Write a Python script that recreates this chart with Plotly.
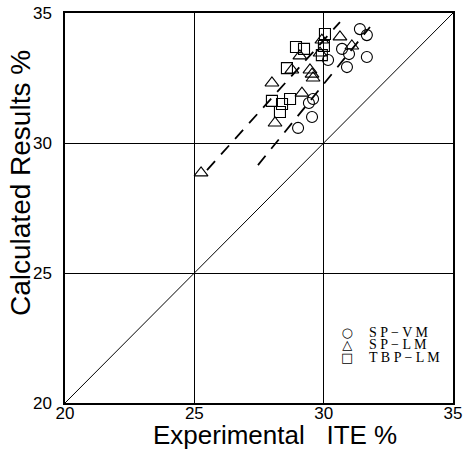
import plotly.graph_objects as go

# SP-VM results (experimental ITE %, calculated %)
sp_vm_x = [31.40, 31.67, 30.71, 30.98, 31.67, 30.90, 30.17, 29.59, 29.43, 29.55, 29.01]
sp_vm_y = [34.38, 34.15, 33.62, 33.42, 33.31, 32.92, 33.19, 31.69, 31.54, 31.00, 30.58]

# SP-LM results
sp_lm_x = [25.26, 28.00, 28.12, 28.77, 29.08, 29.16, 29.47, 29.55, 29.59, 29.86, 29.93, 30.63, 31.09]
sp_lm_y = [28.85, 32.31, 30.77, 32.81, 33.35, 31.92, 32.81, 32.65, 32.50, 33.46, 33.96, 34.08, 33.73]

# TBP-LM results
tbp_lm_x = [30.05, 30.01, 29.93, 28.93, 29.24, 28.58, 28.00, 28.39, 28.70, 28.31]
tbp_lm_y = [34.19, 33.73, 33.38, 33.69, 33.62, 32.88, 31.62, 31.50, 31.69, 31.19]

# dashed trend lines (start, end)
upper_x = [25.49, 30.63]
upper_y = [28.96, 34.65]
lower_x = [27.46, 31.79]
lower_y = [29.15, 34.46]

# 1:1 reference line
diag = [20, 35]

axis_ticks = [20, 25, 30, 35]
legend_labels = ["S P − V M", "S P − L M", "T B P − L M"]
legend_glyphs = ["○", "△", "□"]

fig = go.Figure()

fig.add_trace(go.Scatter(x=diag, y=diag, mode="lines",
                         line=dict(color="black", width=1), hoverinfo="skip"))
for lx, ly in [(upper_x, upper_y), (lower_x, lower_y)]:
    fig.add_trace(go.Scatter(x=lx, y=ly, mode="lines",
                             line=dict(color="black", width=1.8, dash="12px,9px"),
                             hoverinfo="skip"))

mk_line = dict(color="black", width=1.1)
fig.add_trace(go.Scatter(x=sp_vm_x, y=sp_vm_y, mode="markers", name="SP-VM",
                         marker=dict(symbol="circle-open", size=11, color="black", line=mk_line)))
fig.add_trace(go.Scatter(x=sp_lm_x, y=sp_lm_y, mode="markers", name="SP-LM",
                         marker=dict(symbol="triangle-up-open", size=12, color="black", line=mk_line)))
fig.add_trace(go.Scatter(x=tbp_lm_x, y=tbp_lm_y, mode="markers", name="TBP-LM",
                         marker=dict(symbol="square-open", size=11, color="black", line=mk_line)))

tick_font = dict(family="Liberation Sans", size=17, color="black")
axis_common = dict(range=[20, 35], tickvals=axis_ticks, ticktext=[str(t) for t in axis_ticks],
                   showgrid=True, gridcolor="black", gridwidth=1,
                   showline=True, linecolor="black", linewidth=1.5, mirror=True,
                   ticks="", zeroline=False, tickfont=tick_font, automargin=False)

fig.update_xaxes(**axis_common, ticklabelstandoff=-6)
fig.update_yaxes(**axis_common, ticklabelstandoff=8)

# legend key: one block of symbols and one block of labels, tight line spacing
glyph_block = "<br>".join(f"<span style='font-size:13px'>{g}</span>" for g in legend_glyphs)
label_block = "<br>".join(f"<span style='font-size:14px'>{t}</span>" for t in legend_labels)

annotations = [
    dict(text="Experimental   ITE %", xref="paper", yref="paper", x=0.541, y=-0.081,
         xanchor="center", yanchor="middle", showarrow=False,
         font=dict(family="Liberation Sans", size=26, color="black")),
    dict(text="Calculated Results %", xref="paper", yref="paper", x=-0.116, y=0.564,
         xanchor="center", yanchor="middle", showarrow=False, textangle=-90,
         font=dict(family="Liberation Sans", size=28, color="black")),
    dict(text=glyph_block, xref="paper", yref="paper", x=0.727, y=0.150,
         xanchor="center", yanchor="middle", showarrow=False, align="center",
         font=dict(family="DejaVu Sans", size=9.6, color="black")),
    dict(text=label_block, xref="paper", yref="paper", x=0.778, y=0.150,
         xanchor="left", yanchor="middle", showarrow=False, align="left",
         font=dict(family="Liberation Serif", size=9.6, color="black")),
]

fig.update_layout(
    width=470, height=450,
    margin=dict(l=65, r=17, t=13, b=47),
    paper_bgcolor="white", plot_bgcolor="white",
    showlegend=False,
    annotations=annotations,
)

fig.write_html("out.html")
